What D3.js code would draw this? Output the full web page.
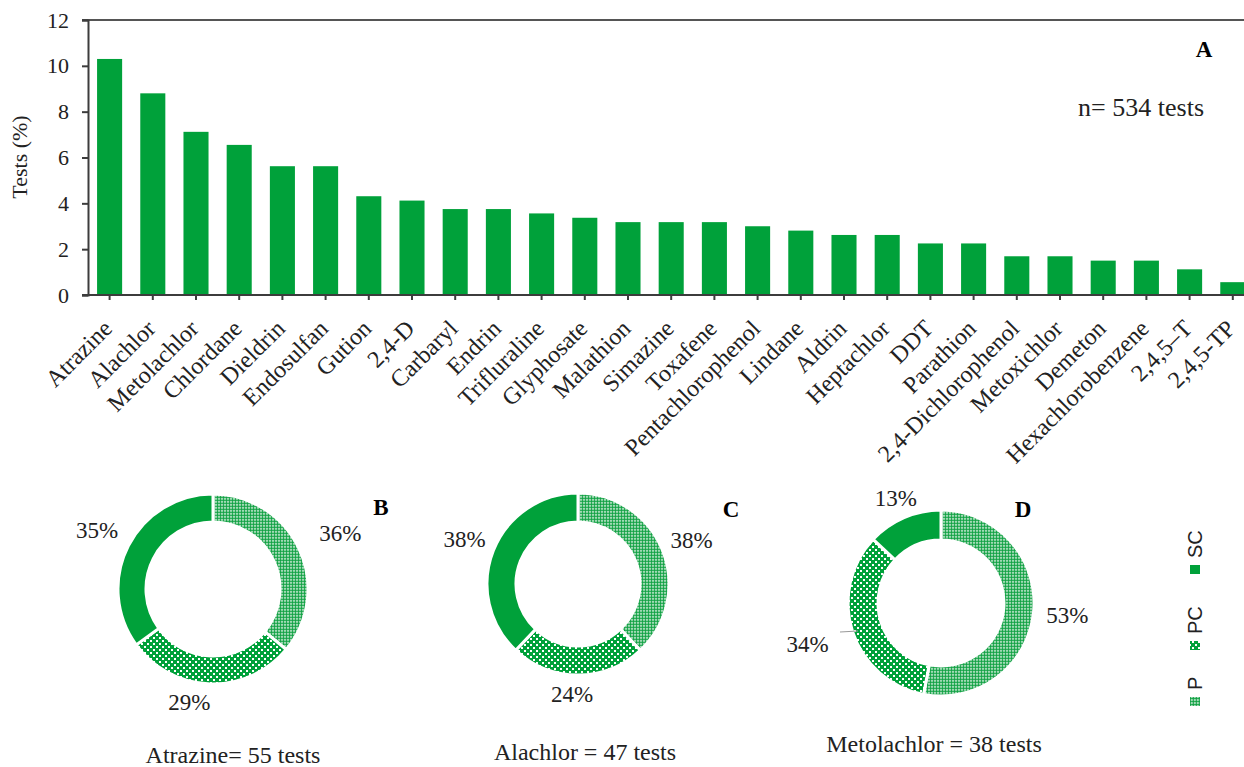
<!DOCTYPE html>
<html>
<head>
<meta charset="utf-8">
<script src="https://cdn.jsdelivr.net/npm/d3@7"></script>
<style>
  body { margin: 0; background: #fff; }
  svg { font-family: "Liberation Serif", serif; }
</style>
</head>
<body>
<div id="vis"></div>
<script>
// data
const PESTICIDES = ["Atrazine", "Alachlor", "Metolachlor", "Chlordane", "Dieldrin", "Endosulfan",
  "Gution", "2,4-D", "Carbaryl", "Endrin", "Trifluraline", "Glyphosate", "Malathion", "Simazine",
  "Toxafene", "Pentachlorophenol", "Lindane", "Aldrin", "Heptachlor", "DDT", "Parathion",
  "2,4-Dichlorophenol", "Metoxichlor", "Demeton", "Hexachlorobenzene", "2,4,5\u2013T", "2,4,5-TP"];
const TEST_PCT = [10.30, 8.80, 7.12, 6.55, 5.62, 5.62, 4.31, 4.12, 3.75, 3.75, 3.56, 3.37, 3.18, 3.18,
  3.18, 3.00, 2.81, 2.62, 2.62, 2.25, 2.25, 1.69, 1.69, 1.50, 1.50, 1.12, 0.56];
const Y_TICKS = [0, 2, 4, 6, 8, 10, 12];

const CLASSES = ["P", "PC", "SC"];
const ATRAZINE_PCT = [36, 29, 35];
const ALACHLOR_PCT = [38, 24, 38];
const METOLACHLOR_PCT = [53, 34, 13];
const DONUT_NAMES = ["Atrazine= 55 tests", "Alachlor = 47 tests", "Metolachlor = 38 tests"];
const DONUT_LETTERS = ["B", "C", "D"];

// set constants
const WIDTH = 1244, HEIGHT = 767;
const GREEN = "#00a13a";
const AXIS_COLOR = "#3c3c3c";
const PLOT = {left: 88, top: 20, bottom: 295};
const STEP = 43.2;

const svg = d3.select("#vis").append("svg")
  .attr("width", WIDTH)
  .attr("height", HEIGHT);

// patterns for the donut classes
const defs = svg.append("defs");
const patP = defs.append("pattern").attr("id", "patP")
  .attr("patternUnits", "userSpaceOnUse").attr("width", 3).attr("height", 3);
patP.append("rect").attr("width", 3).attr("height", 3).attr("fill", "#ffffff");
patP.append("circle").attr("cx", 1.5).attr("cy", 1.5).attr("r", 1.4).attr("fill", "#12a244");

const patPC = defs.append("pattern").attr("id", "patPC")
  .attr("patternUnits", "userSpaceOnUse").attr("width", 6).attr("height", 6);
patPC.append("rect").attr("width", 6).attr("height", 6).attr("fill", GREEN);
patPC.append("rect").attr("x", 0).attr("y", 0).attr("width", 2).attr("height", 2).attr("fill", "#fff");
patPC.append("rect").attr("x", 3).attr("y", 3).attr("width", 2).attr("height", 2).attr("fill", "#fff");

const FILLS = {P: "url(#patP)", PC: "url(#patPC)", SC: GREEN};

// ---------- bar chart (A) ----------
const X_SCALE = d3.scaleBand()
  .domain(PESTICIDES)
  .range([PLOT.left, PLOT.left + PESTICIDES.length * STEP])
  .paddingInner(0.42)
  .paddingOuter(0.21);

const Y_SCALE = d3.scaleLinear()
  .domain([0, 12])
  .range([PLOT.bottom, PLOT.top]);

// top line at 12
svg.append("line")
  .attr("x1", PLOT.left - 6).attr("x2", WIDTH)
  .attr("y1", Y_SCALE(12)).attr("y2", Y_SCALE(12))
  .attr("stroke", "#555").attr("stroke-width", 2);

svg.selectAll(".bar")
  .data(TEST_PCT)
  .enter()
  .append("rect")
    .attr("class", "bar")
    .attr("x", (d, i) => X_SCALE(PESTICIDES[i]))
    .attr("y", (d) => Y_SCALE(d))
    .attr("width", X_SCALE.bandwidth())
    .attr("height", (d) => Y_SCALE(0) - Y_SCALE(d))
    .attr("fill", GREEN);

// y axis
const yAxis = svg.append("g")
  .attr("transform", "translate(" + PLOT.left + ",0)")
  .call(d3.axisLeft(Y_SCALE).tickValues(Y_TICKS).tickSize(6).tickPadding(13));
yAxis.select(".domain").attr("stroke", AXIS_COLOR).attr("stroke-width", 2);
yAxis.selectAll(".tick line").attr("stroke", AXIS_COLOR).attr("stroke-width", 2);
yAxis.selectAll("text")
  .attr("font-family", "Liberation Serif").attr("font-size", "22px").attr("fill", "#222");

// x axis
const xAxis = svg.append("g")
  .attr("transform", "translate(0," + PLOT.bottom + ")")
  .call(d3.axisBottom(X_SCALE).tickSizeOuter(0).tickSize(5));
xAxis.select(".domain").attr("stroke", AXIS_COLOR).attr("stroke-width", 2)
  .attr("d", "M" + (PLOT.left - 6) + ",0H" + WIDTH);
xAxis.selectAll(".tick line").attr("stroke", AXIS_COLOR).attr("stroke-width", 2);
xAxis.selectAll("text")
  .attr("x", 0).attr("y", 0).attr("dy", null)
  .attr("transform", "translate(4,35) rotate(-45)")
  .attr("text-anchor", "end")
  .attr("font-family", "Liberation Serif").attr("font-size", "24px").attr("fill", "#222");

svg.append("text")
  .attr("transform", "translate(27,157) rotate(-90)")
  .attr("text-anchor", "middle")
  .attr("font-size", "22px").attr("fill", "#222")
  .text("Tests (%)");

svg.append("text")
  .attr("x", 1204).attr("y", 57)
  .attr("text-anchor", "middle")
  .attr("font-size", "23px").attr("font-weight", "bold")
  .text("A");

svg.append("text")
  .attr("x", 1204).attr("y", 116)
  .attr("text-anchor", "end")
  .attr("font-size", "26px").attr("fill", "#222")
  .text("n= 534 tests");

// ---------- donuts (B, C, D) ----------
const DONUTS = [
  {values: ATRAZINE_PCT, cx: 213, cy: 589, r: 95, ir: 67, labelR: [132, 113, 130],
   nudge: [[8, 0], [-20, 0], [0, 0]], letter: [381, 515], caption: [233, 763]},
  {values: ALACHLOR_PCT, cx: 578, cy: 584, r: 91, ir: 62, labelR: [120, 110, 122],
   nudge: [[2, 0], [-6, 0], [0, 0]], letter: [731, 517], caption: [585, 760]},
  {values: METOLACHLOR_PCT, cx: 941, cy: 603, r: 93, ir: 63, labelR: [127, 132, 114],
   nudge: [[0, 0], [-8, 0], [0, 0]], letter: [1023, 517], caption: [934, 752]}
];

const pie = d3.pie().sort(null).value((d) => d);

DONUTS.forEach((cfg, k) => {
  const g = svg.append("g").attr("transform", "translate(" + cfg.cx + "," + cfg.cy + ")");
  const arc = d3.arc().innerRadius(cfg.ir).outerRadius(cfg.r);
  const arcs = pie(cfg.values);

  g.selectAll("path")
    .data(arcs)
    .enter()
    .append("path")
      .attr("d", arc)
      .attr("fill", (d, i) => FILLS[CLASSES[i]])
      .attr("stroke", "#fff")
      .attr("stroke-width", 3);

  g.selectAll(".lbl")
    .data(arcs)
    .enter()
    .append("text")
      .attr("class", "lbl")
      .attr("transform", (d, i) => {
        const c = d3.arc().innerRadius(cfg.labelR[i]).outerRadius(cfg.labelR[i]).centroid(d);
        return "translate(" + (c[0] + cfg.nudge[i][0]) + "," + (c[1] + cfg.nudge[i][1]) + ")";
      })
      .attr("text-anchor", "middle")
      .attr("dy", "0.35em")
      .attr("font-size", "23px").attr("fill", "#222")
      .text((d) => d.data + "%");

  svg.append("text")
    .attr("x", cfg.letter[0]).attr("y", cfg.letter[1])
    .attr("text-anchor", "middle")
    .attr("font-size", "23px").attr("font-weight", "bold")
    .text(DONUT_LETTERS[k]);

  svg.append("text")
    .attr("x", cfg.caption[0]).attr("y", cfg.caption[1])
    .attr("text-anchor", "middle")
    .attr("font-size", "24px").attr("fill", "#222")
    .text(DONUT_NAMES[k]);
});

// leader line for 34% in D
svg.append("line")
  .attr("x1", 840).attr("x2", 858).attr("y1", 632).attr("y2", 631)
  .attr("stroke", "#999").attr("stroke-width", 1);

// ---------- legend (rotated) ----------
const legend = svg.append("g").attr("transform", "translate(1195,706) rotate(-90)");
const LEG_POS = [0, 56, 132];
CLASSES.forEach((c, i) => {
  legend.append("rect")
    .attr("x", LEG_POS[i]).attr("y", -5)
    .attr("width", 9).attr("height", 10)
    .attr("fill", FILLS[c]);
  legend.append("text")
    .attr("x", LEG_POS[i] + 16).attr("y", 7)
    .attr("font-family", "Liberation Sans").attr("font-size", "20px").attr("fill", "#222")
    .text(c);
});
</script>
</body>
</html>
